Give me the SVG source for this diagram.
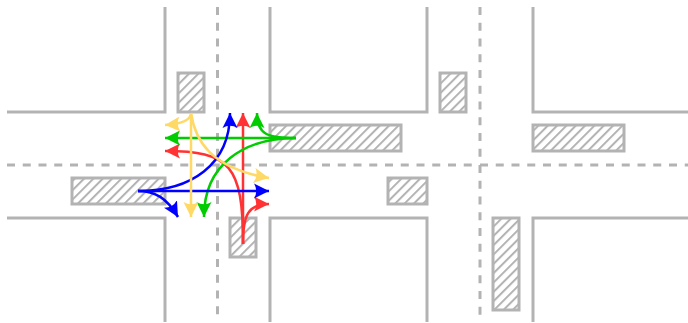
<svg xmlns="http://www.w3.org/2000/svg" width="688" height="323" viewBox="0 0 688 323">
<style>
.road{fill:none;stroke:#b3b3b3;stroke-width:3}
.dash{fill:none;stroke:#b3b3b3;stroke-width:3;stroke-dasharray:8 7.75}
.cross{fill:url(#hatch);stroke:#b3b3b3;stroke-width:3}
.c{fill:none;stroke-width:2.5}
.r{stroke:#ff3333}.g{stroke:#00cc00}.b{stroke:#0000ff}.y{stroke:#ffd966}
</style>
<defs>
<pattern id="hatch" patternUnits="userSpaceOnUse" width="6.6" height="10" patternTransform="rotate(45)">
<rect width="6.6" height="10" fill="#fff"/>
<rect x="0" width="2" height="10" fill="#b3b3b3"/>
</pattern>
<path id="head" d="M0 0.500L15 8L0 15.500Q4.500 8 0 0.500Z"/>
<marker id="ar" markerUnits="userSpaceOnUse" markerWidth="18" markerHeight="18" refX="15" refY="8" orient="auto"><use href="#head" fill="#ff3333"/></marker>
<marker id="ag" markerUnits="userSpaceOnUse" markerWidth="18" markerHeight="18" refX="15" refY="8" orient="auto"><use href="#head" fill="#00cc00"/></marker>
<marker id="ab" markerUnits="userSpaceOnUse" markerWidth="18" markerHeight="18" refX="15" refY="8" orient="auto"><use href="#head" fill="#0000ff"/></marker>
<marker id="ay" markerUnits="userSpaceOnUse" markerWidth="18" markerHeight="18" refX="15" refY="8" orient="auto"><use href="#head" fill="#ffd966"/></marker>
</defs>
<g id="roads">
<path class="road" d="M7 112H165V7"/>
<path class="road" d="M270 7V112H427V7"/>
<path class="road" d="M533 7V112H688"/>
<path class="road" d="M7 218H165V322"/>
<path class="road" d="M270 322V218H427V322"/>
<path class="road" d="M533 322V218H688"/>
<path class="dash" d="M7 165H473"/>
<path class="dash" d="M480 165H688"/>
<path class="dash" d="M217.500 7V316"/>
<path class="dash" d="M480 7V157"/>
<path class="dash" d="M480 165V316"/>
</g>
<g id="crossing-1"><rect class="cross" x="178" y="73" width="26" height="39"/></g>
<g id="crossing-2"><rect class="cross" x="270" y="125" width="131" height="26"/></g>
<g id="crossing-3"><rect class="cross" x="72" y="178" width="93" height="26"/></g>
<g id="crossing-4"><rect class="cross" x="230" y="218" width="26" height="39"/></g>
<g id="crossing-5"><rect class="cross" x="388" y="178" width="39" height="26"/></g>
<g id="crossing-6"><rect class="cross" x="440" y="73" width="26" height="39"/></g>
<g id="crossing-7"><rect class="cross" x="533" y="125" width="91" height="26"/></g>
<g id="crossing-8"><rect class="cross" x="493" y="218" width="26" height="92"/></g>
<g id="connectors">
<path class="c r" marker-end="url(#ar)" d="M243 244V113"/>
<path class="c r" marker-end="url(#ar)" d="M243 244C243 165 230 151 165 151"/>
<path class="c r" marker-end="url(#ar)" d="M243 244C243 215 248 204 269 204"/>
<path class="c g" marker-end="url(#ag)" d="M296 138H165"/>
<path class="c g" marker-end="url(#ag)" d="M296 138C243 138 204 165 204 217"/>
<path class="c g" marker-end="url(#ag)" d="M296 138C268 138 257 135 257 113"/>
<path class="c b" marker-end="url(#ab)" d="M138 191H269"/>
<path class="c b" marker-end="url(#ab)" d="M138 191C191 191 230 165 230 113"/>
<path class="c b" marker-end="url(#ab)" d="M138 191C155 191 167 198 178 217"/>
<path class="c y" marker-end="url(#ay)" d="M191 113V217"/>
<path class="c y" marker-end="url(#ay)" d="M191 113C191 121 180 124 165 125"/>
<path class="c y" marker-end="url(#ay)" d="M191 113C195 140 210 168 269 178"/>
</g>
</svg>
